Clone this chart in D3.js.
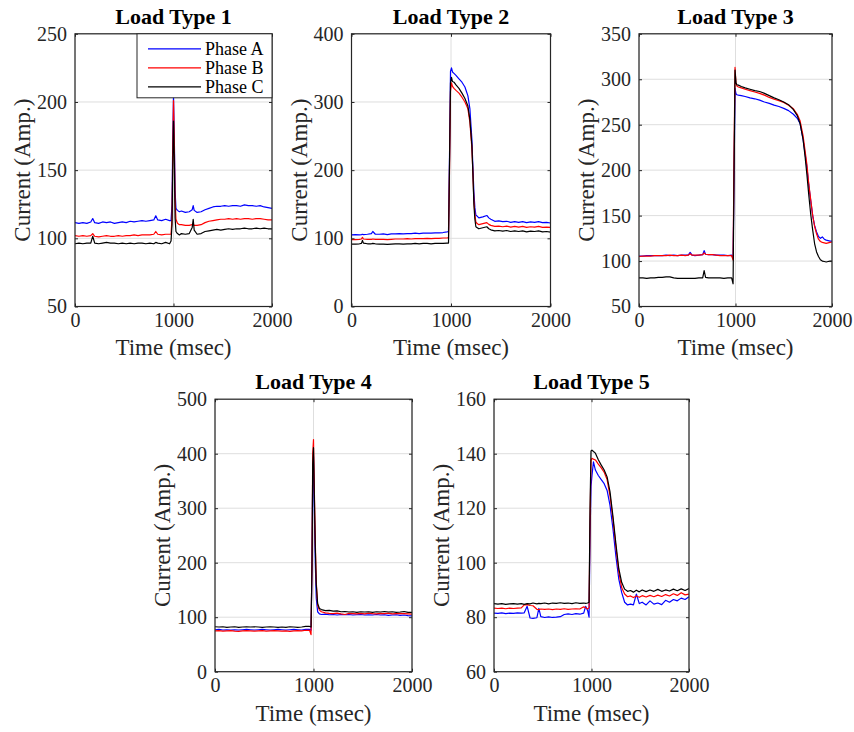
<!DOCTYPE html>
<html lang="en">
<head>
<meta charset="UTF-8">
<title>Load Types</title>
<script src="https://cdn.jsdelivr.net/npm/d3@7"></script>
<style>
    body { margin: 0; background: #fff; }
    svg text { font-family: "Liberation Serif", "Times New Roman", serif; }
</style>
</head>
<body>
<script>
// ---- data (time in msec, current in Amp.) ----
var xTicks = [0, 1000, 2000];
var phaseNames = ["Phase A", "Phase B", "Phase C"];
var phaseColors = ["#0000ff", "#ff0000", "#000000"];

// Load Type 1
var t1 = [0,40,80,120,160,180,200,240,280,320,360,400,440,480,520,560,600,640,680,720,760,800,820,840,880,920,960,
    975,985,992,1000,1008,1016,1025,1040,1060,1080,
    1120,1160,1190,1200,1210,1240,
    1280,1320,1360,1400,1440,1480,1520,1560,1600,1640,1680,1720,1760,1800,1840,1880,1920,1960,2000];
var a1 = [111.5,111,111.5,111,112,114.5,111.5,111,112,111.5,112,111,111.5,112,111.5,112.5,112,112.5,113,112.5,113,113.5,116.5,113.5,113,114,113,
    113,125,170,205,175,135,122,120.5,119.5,120,
    119,119.5,121,124,120.5,119,
    119.5,121,122,123,123.5,123.5,124,123.5,124,124,123.5,124.5,124,124,123.5,124,123,122.5,122];
var b1 = [102,101.5,102,101.5,102,103.5,101.5,101,101.5,102,101.5,101.5,102,101.5,102,102,102.5,102,102.5,102.5,102.5,103,105,103,102.5,103,103,
    103,115,160,201,170,128,114,111,110,110,
    109.5,109.5,110,110.5,109.5,109.5,
    110,111.5,112.5,113,113.5,114,114,114.5,114,114.5,114,114.5,114.5,114,114.5,114.5,114,113.5,113.5];
var c1 = [96,96.5,96,96.5,96.5,101.5,96.5,96,96.5,97,96.5,96.5,96,96.5,96,96.5,96,96.5,96.5,96,96.5,96,97,96.5,96,97,96,
    98,110,150,186,160,115,105,103.5,102.5,103.5,
    103,103.5,108,114,106,103,
    103.5,105,105.5,106,106.5,106,106.5,107,106.5,107,107,107.5,107,107,107.5,107,107.5,107,107];
var yTicks1 = [50, 100, 150, 200, 250];

// Load Type 2
var t2 = [0,40,80,100,110,120,160,200,214,240,
    280,320,360,400,440,480,520,560,600,640,680,720,760,800,840,880,920,960,
    975,985,995,1005,1015,1030,1050,1080,1110,1140,1170,1190,
    1210,1220,1230,1240,1250,1260,
    1280,1320,1360,1380,1400,
    1440,1480,1520,1560,1600,1640,1680,1720,1760,1800,1840,1880,1920,1960,2000];
var a2 = [105,105.5,105,105.5,106,105.5,106,107,110,106,
    106,106.5,105.5,106.5,106.5,107,106.5,107,107,107.5,107,107.5,107.5,107.5,108,108,108.5,109.5,
    110,220,345,350,344,342,339,334,329,322,309,290,
    245,205,168,145,134,133,
    130,131.5,133.5,130,128,
    125,125.5,124.5,125,123.5,124.5,123.5,124.5,123,124,123.5,124.5,123,123.5,122.5];
var b2 = [98,98,98.5,99,101.5,99,98.5,98.5,99,98.5,
    98.5,98.5,98,98.5,99,99,99,99.5,99,99.5,99.5,99.5,100,99.5,100,100,100.5,100.5,
    101,200,315,328,323,320,317,313,307,300,290,270,
    232,195,155,135,124,122,
    120,121.5,123,120.5,119,
    117.5,118,117,118,116.5,117.5,116.5,117.5,116,117,116.5,117.5,116,116.5,116];
var c2 = [91.5,91.5,92,92.5,97,93,92,92,92.5,92,
    91.5,91.5,91,91.5,92,92,91.5,92,92,92.5,92,92.5,92.5,92,92.5,92.5,92.5,93,
    93,210,328,336,330,329,325,320,313,305,294,274,
    236,196,150,128,117,116,
    114,115.5,117,114,112.5,
    111,111.5,110.5,111.5,110,111,110,111,109.5,110.5,110,111,109.5,110,109];
var yTicks2 = [0, 100, 200, 300, 400];

// Load Type 3
var t3 = [0,40,80,120,160,200,240,280,320,360,400,440,480,
    510,530,550,580,620,660,675,690,
    720,760,800,840,880,920,960,
    975,985,995,1005,1015,1030,1060,
    1100,1150,1200,1250,1300,1350,1400,1450,1500,1550,1600,
    1640,1670,1700,1720,1740,1760,1780,1800,1820,1840,1860,1880,1900,1920,1940,1960,1980,2000];
var a3 = [105.5,105.5,106,106,106,106,106,106.5,106,106.5,106,106.5,106.5,
    106.5,109.5,106.5,106,106.5,107,111.5,107.5,
    107,107,106.5,106.5,106.5,106,106.5,
    103,190,290,284,283,282.5,282,
    281,279.5,278.5,277,275,273.5,271.5,270,268,265.5,261.5,
    257,251,234,219,203,183,166,150,139,132,127,125,126.5,124,123,122.5,122,122];
var b3 = [105,105.5,105.5,105.5,106,106,106,106,106.5,106,106,106.5,106,
    106.5,108,106.5,106.5,106.5,107,109,107.5,
    107,107,106.5,106,106,106,106,
    101,220,313,296,292.5,291.5,290.5,
    289,287.5,286,284.5,282.5,280,278,276.5,274.5,271.5,267.5,
    261.5,254,238,222,206,184,167,150,138,130,124,121.5,120.5,120,119.5,120,120.5,121];
var c3 = [81.5,81.5,81,81.5,81.5,82,82,82.5,82.5,81.5,81,81,81,
    81,81,81,81,81.5,81.5,89.5,82,
    81.5,81.5,81.5,81.5,81,81.5,81.5,
    75,200,310,296,294,293.5,292,
    290.5,289,287.5,286.5,284.5,282,279.5,277.5,275,272,266.5,
    260,251,234,216,195,172,151,134,119,110,105,101.5,100,99.5,99,99.5,100,100];
var yTicks3 = [50, 100, 150, 200, 250, 300, 350];

// Load Type 4
var t4 = [0,40,80,120,160,200,240,280,320,360,400,440,480,520,560,600,640,680,720,760,800,840,880,920,960,
    975,985,992,1000,1008,1018,1028,1042,1060,1080,
    1120,1160,1200,1240,1280,1320,1360,1400,1440,1480,1520,1560,1600,1640,1680,1720,1760,1800,1840,1880,1920,1960,2000];
var a4 = [77,77.5,76.5,77,76.5,77,76.5,77,77.5,77,76.5,77,77.5,77,76.5,77,77.5,77,76.5,77,77.5,77,76.5,77.5,77.5,
    76,190,360,395,300,200,135,110,106,105,
    105.5,104.5,105,104,105,104.5,105,104,104.5,105,104,104.5,104,105,104,104.5,103.5,104,104.5,103.5,104,103,102.5];
var b4 = [75,75.5,74.5,75,75.5,74.5,74,75,75.5,75,74.5,75,75.5,74.5,75,75.5,75,74.5,75,74,75,75.5,75,76,76,
    68,210,400,426,340,240,165,122,113,110,
    108,107,106.5,107.5,106,105,107,106.5,106,107,106,107.5,106.5,106,107,106.5,107.5,106,106.5,107,106.5,106,105.5];
var c4 = [82.5,82,82.5,81.5,82,82.5,81.5,82,82.5,82,82.5,82,81.5,82,82.5,82,81.5,82,81.5,82.5,82,81.5,82,83,83,
    82,200,380,411,330,230,160,125,116,114,
    112,112.5,111,111.5,110,110.5,109.5,110,109,110,109.5,110,109,110,109.5,110.5,109.5,110,109,109.5,110.5,109,109];
var yTicks4 = [0, 100, 200, 300, 400, 500];

// Load Type 5
var t5 = [0,40,80,120,160,200,240,280,310,340,370,400,440,460,480,520,560,600,640,680,720,760,800,840,880,920,940,960,
    975,985,995,1005,1020,1040,1070,1100,1130,1160,1190,1220,1250,1280,1310,1340,1370,1400,
    1430,1460,1490,1520,1560,1600,1640,1680,1720,1760,1800,1840,1880,1920,1960,2000];
var a5 = [81.5,81.4,81.6,81.3,81.5,81.4,81.6,81.5,81.6,84,79.7,79.6,79.8,83.2,80.2,79.9,80.1,79.9,80,80.2,81,81.2,81,81.3,81.1,81.5,84,82.5,
    80,110,128,132,137,134,132,130.5,129,126.5,121,112.5,102.5,94,89,85.5,84.5,84.8,
    84.5,88.5,85,85.5,84.5,86,84.8,85.2,84.6,86.2,85.5,86.5,86,87,86.5,87.5];
var b5 = [83.3,83.2,83.3,83.1,83.3,83.2,83.3,83.4,84.5,84.6,84.3,84.2,82.9,82.8,83,82.9,83,82.8,83,82.9,83.1,82.9,83,83.1,83,83.8,83.5,83,
    83.5,115,137.5,138.3,138,137.7,136.2,134.8,133.2,130.5,124.5,116,105.8,96.5,90.8,88.5,87.5,87.8,
    87.2,87.8,87.3,87.9,87.4,88,87.5,88.1,87.6,88.3,87.8,88.6,88,89,88.2,88.5];
var c5 = [85,84.8,85,84.7,84.9,85,84.8,85,84.7,85,84.9,85.2,84.9,85.1,85,85.2,84.9,85.2,85.1,85.3,85.1,85.2,85,85.3,85.1,85.2,85.1,85.2,
    85.5,120,141,141.3,140.8,140.2,137.8,135.8,134,131.5,126,117,107,97.8,92.7,90.3,89.5,89.8,
    89.2,89.9,89.3,90,89.4,90,89.5,90.2,89.5,90,89.6,90.3,89.7,90.4,89.8,90.5];
var yTicks5 = [60, 80, 100, 120, 140, 160];

// ---- panels: data refs + where each axes box sits ----
var panels = [
    {title: "Load Type 1", t: t1, series: [a1, b1, c1], yTicks: yTicks1, box: [75, 33.8, 197, 272.7], legend: true},
    {title: "Load Type 2", t: t2, series: [a2, b2, c2], yTicks: yTicks2, box: [351.5, 33.8, 199, 272.7]},
    {title: "Load Type 3", t: t3, series: [a3, b3, c3], yTicks: yTicks3, box: [639, 33.8, 193, 272.7]},
    {title: "Load Type 4", t: t4, series: [a4, b4, c4], yTicks: yTicks4, box: [215, 399.2, 197, 272.5]},
    {title: "Load Type 5", t: t5, series: [a5, b5, c5], yTicks: yTicks5, box: [494, 399.2, 195, 272.5]}
];

var serif = '"Liberation Serif", "Times New Roman", serif';
var axisColor = "#262626";
var gridColor = "#dedede";
var tickLen = 3;

var svg = d3.select("body").append("svg").attr("width", 854).attr("height", 732);
var defs = svg.append("defs");

panels.forEach(function (p, i) {
    var w = p.box[2], h = p.box[3];
    var g = svg.append("g").attr("transform", "translate(" + p.box[0] + "," + p.box[1] + ")");

    var x = d3.scaleLinear().domain([0, 2000]).range([0, w]);
    var y = d3.scaleLinear().domain(d3.extent(p.yTicks)).range([h, 0]);

    // grid
    g.selectAll(".gy").data(p.yTicks).enter().append("line")
        .attr("x1", 0).attr("x2", w).attr("y1", function (d) { return y(d); }).attr("y2", function (d) { return y(d); })
        .attr("stroke", gridColor).attr("stroke-width", 1);
    g.selectAll(".gx").data(xTicks).enter().append("line")
        .attr("y1", 0).attr("y2", h).attr("x1", function (d) { return x(d); }).attr("x2", function (d) { return x(d); })
        .attr("stroke", gridColor).attr("stroke-width", 1);

    // lines
    defs.append("clipPath").attr("id", "clip" + i).append("rect").attr("width", w).attr("height", h);
    var line = d3.line()
        .x(function (d, k) { return x(p.t[k]); })
        .y(function (d) { return y(d); });
    var lg = g.append("g").attr("clip-path", "url(#clip" + i + ")");
    p.series.forEach(function (s, k) {
        lg.append("path").datum(s).attr("d", line)
            .attr("fill", "none").attr("stroke", phaseColors[k]).attr("stroke-width", 1.2)
            .attr("stroke-linejoin", "round");
    });

    // axes, ticks pointing inward on all four sides
    var fmt = d3.format("d");
    var bottom = g.append("g").attr("transform", "translate(0," + h + ")")
        .call(d3.axisBottom(x).tickValues(xTicks).tickFormat(fmt).tickSize(-tickLen).tickPadding(6));
    var left = g.append("g")
        .call(d3.axisLeft(y).tickValues(p.yTicks).tickFormat(fmt).tickSize(-tickLen).tickPadding(8));
    var top = g.append("g")
        .call(d3.axisTop(x).tickValues(xTicks).tickFormat("").tickSize(-tickLen));
    var right = g.append("g").attr("transform", "translate(" + w + ",0)")
        .call(d3.axisRight(y).tickValues(p.yTicks).tickFormat("").tickSize(-tickLen));
    [bottom, left, top, right].forEach(function (a) {
        a.attr("font-family", serif).attr("font-size", 20);
        a.select(".domain").remove();
        a.selectAll("line").attr("stroke", axisColor);
        a.selectAll("text").attr("fill", axisColor).attr("font-family", serif).attr("font-size", 20);
    });
    g.append("rect").attr("width", w).attr("height", h)
        .attr("fill", "none").attr("stroke", axisColor).attr("stroke-width", 1.2);

    // labels
    g.append("text").attr("x", w / 2).attr("y", -10).attr("text-anchor", "middle")
        .attr("font-family", serif).attr("font-size", 22).attr("font-weight", "bold")
        .attr("fill", "#000").text(p.title);
    g.append("text").attr("x", w / 2).attr("y", h + 49).attr("text-anchor", "middle")
        .attr("font-family", serif).attr("font-size", 23).attr("fill", axisColor).text("Time (msec)");
    g.append("text").attr("transform", "translate(-45," + (h / 2) + ") rotate(-90)").attr("text-anchor", "middle")
        .attr("font-family", serif).attr("font-size", 23).attr("fill", axisColor).text("Current (Amp.)");

    // legend
    if (p.legend) {
        var lw = 135, lh = 64;
        var leg = g.append("g").attr("transform", "translate(" + (w - lw) + ",0)");
        leg.append("rect").attr("width", lw).attr("height", lh)
            .attr("fill", "#fff").attr("stroke", axisColor).attr("stroke-width", 1);
        phaseNames.forEach(function (name, k) {
            var yy = 15 + k * 19;
            leg.append("line").attr("x1", 11).attr("x2", 64).attr("y1", yy).attr("y2", yy)
                .attr("stroke", phaseColors[k]).attr("stroke-width", 1.2);
            leg.append("text").attr("x", 68).attr("y", yy + 6)
                .attr("font-family", serif).attr("font-size", 18)
                .attr("fill", "#000").text(name);
        });
    }
});
</script>
</body>
</html>
